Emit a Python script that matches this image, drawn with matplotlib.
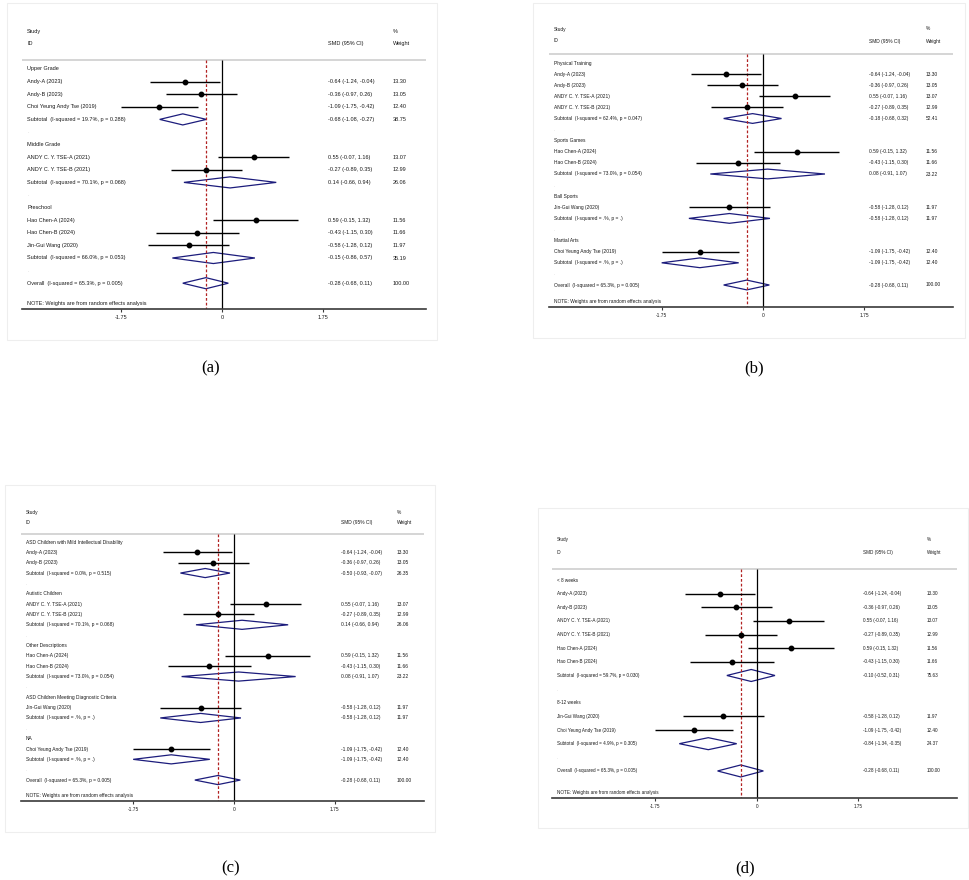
import numpy as np
import matplotlib.pyplot as plt
from matplotlib.patches import Polygon, Rectangle

plt.rcParams['font.family'] = ['Liberation Sans', 'DejaVu Sans']

# ---------- studies (shared by all four panels) ----------
study_names = ["Andy-A (2023)", "Andy-B (2023)", "ANDY C. Y. TSE-A (2021)",
               "ANDY C. Y. TSE-B (2021)", "Hao Chen-A (2024)", "Hao Chen-B (2024)",
               "Jin-Gui Wang (2020)", "Choi Yeung Andy Tse (2019)"]
study_smd = [-0.64, -0.36, 0.55, -0.27, 0.59, -0.43, -0.58, -1.09]
study_lo = [-1.24, -0.97, -0.07, -0.89, -0.15, -1.15, -1.28, -1.75]
study_hi = [-0.04, 0.26, 1.16, 0.35, 1.32, 0.30, 0.12, -0.42]
study_wt = [13.30, 13.05, 13.07, 12.99, 11.56, 11.66, 11.97, 12.40]

overall_smd, overall_lo, overall_hi, overall_wt = -0.28, -0.68, 0.11, 100.00
overall_i2, overall_p = "65.3%", "0.005"

# ---------- (a) grade ----------
a_groups = ["Upper Grade", "Middle Grade", "Preschool"]
a_members = [[0, 1, 7], [2, 3], [4, 5, 6]]
a_i2 = ["19.7%", "70.1%", "66.0%"]
a_p = ["0.288", "0.068", "0.053"]
a_smd = [-0.68, 0.14, -0.15]
a_lo = [-1.08, -0.66, -0.86]
a_hi = [-0.27, 0.94, 0.57]
a_wt = [38.75, 26.06, 35.19]

# ---------- (b) intervention type ----------
b_groups = ["Physical Training", "Sports Games", "Ball Sports", "Martial Arts"]
b_members = [[0, 1, 2, 3], [4, 5], [6], [7]]
b_i2 = ["62.4%", "73.0%", ".%", ".%"]
b_p = ["0.047", "0.054", ".", "."]
b_smd = [-0.18, 0.08, -0.58, -1.09]
b_lo = [-0.68, -0.91, -1.28, -1.75]
b_hi = [0.32, 1.07, 0.12, -0.42]
b_wt = [52.41, 23.22, 11.97, 12.40]

# ---------- (c) population ----------
c_groups = ["ASD Children with Mild Intellectual Disability", "Autistic Children",
            "Other Descriptions", "ASD Children Meeting Diagnostic Criteria", "NA"]
c_members = [[0, 1], [2, 3], [4, 5], [6], [7]]
c_i2 = ["0.0%", "70.1%", "73.0%", ".%", ".%"]
c_p = ["0.515", "0.068", "0.054", ".", "."]
c_smd = [-0.50, 0.14, 0.08, -0.58, -1.09]
c_lo = [-0.93, -0.66, -0.91, -1.28, -1.75]
c_hi = [-0.07, 0.94, 1.07, 0.12, -0.42]
c_wt = [26.35, 26.06, 23.22, 11.97, 12.40]

# ---------- (d) duration ----------
d_groups = ["< 8 weeks", "8-12 weeks"]
d_members = [[0, 1, 2, 3, 4, 5], [6, 7]]
d_i2 = ["59.7%", "4.9%"]
d_p = ["0.030", "0.305"]
d_smd = [-0.10, -0.84]
d_lo = [-0.52, -1.34]
d_hi = [0.31, -0.35]
d_wt = [75.63, 24.37]

tick_vals = [-1.75, 0, 1.75]
tick_text = ["-1.75", "0", "1.75"]

# ---------- layout, in pixels of the 970x880 image ----------
W, H = 970, 880
lay_a = dict(frame=(7, 3, 437, 340), L=22, R=426, zero=222, scale=57.7, row0=69, dy=12.6,
             sep=60, axis=309, study=32, id=44, note=303, label=27, smd=328, wt=393, fs=4.0)
lay_b = dict(frame=(533, 3, 965, 338), L=549, R=953, zero=763, scale=57.9, row0=63, dy=11.1,
             sep=54, axis=307, study=29, id=41, note=302, label=554, smd=869, wt=926, fs=3.5)
lay_c = dict(frame=(5, 485, 435, 832), L=21, R=424, zero=234, scale=57.6, row0=542, dy=10.35,
             sep=534, axis=801, study=512, id=522, note=795, label=26, smd=341, wt=397, fs=3.5)
lay_d = dict(frame=(538, 508, 968, 828), L=552, R=957, zero=757, scale=58.0, row0=580, dy=13.64,
             sep=569, axis=798, study=539, id=552, note=792, label=557, smd=863, wt=927, fs=3.3)

NAVY = '#1c1c7c'
RED = '#b22222'

fig = plt.figure(figsize=(9.7, 8.8), dpi=100)


def ci_text(m, lo, hi):
    return f"{m:.2f} ({lo:.2f}, {hi:.2f})"


def draw_panel(groups, members, i2, pv, smd, lo, hi, wt, lay, caption, cap_xy):
    x0, y0, x1, y1 = lay['frame']
    fig.add_artist(Rectangle((x0 / W, 1 - y1 / H), (x1 - x0) / W, (y1 - y0) / H,
                             transform=fig.transFigure, facecolor='white',
                             edgecolor='#eeeeee', lw=0.8, zorder=0))
    L, R, z, s = lay['L'], lay['R'], lay['zero'], lay['scale']
    top = lay['study'] - 10
    bot = lay['axis']
    ax = fig.add_axes([L / W, 1 - bot / H, (R - L) / W, (bot - top) / H])
    ax.patch.set_alpha(0)

    def row(py):
        return (py - lay['row0']) / lay['dy']

    ax.set_xlim((L - z) / s, (R - z) / s)
    ax.set_ylim(row(bot), row(top))

    xl = (lay['label'] - z) / s
    xs = (lay['smd'] - z) / s
    xw = (lay['wt'] - z) / s
    fs = lay['fs']
    kw = dict(fontsize=fs, va='center', ha='left', color='#1a1a1a')

    # header
    ax.text(xl, row(lay['study']), "Study", **kw)
    ax.text(xl, row(lay['id']), "ID", **kw)
    ax.text(xs, row(lay['id']), "SMD (95% CI)", **kw)
    ax.text(xw, row(lay['study']), "%", **kw)
    ax.text(xw, row(lay['id']), "Weight", **kw)
    ax.axhline(row(lay['sep']), color='#d2d2d2', lw=1.3)

    # reference lines
    ax.vlines(0, row(lay['sep']), row(bot), color='black', lw=0.9)
    ax.vlines(overall_smd, row(lay['sep']), row(bot), color=RED, lw=0.9,
              linestyles=(0, (2.2, 1.6)))

    def diamond(r, m, l, h):
        ax.add_patch(Polygon([[l, r], [m, r - 0.44], [h, r], [m, r + 0.44]], closed=True,
                             fill=False, edgecolor=NAVY, lw=0.9))

    r = 0
    for g in range(len(groups)):
        ax.text(xl, r, groups[g], **kw)
        r += 1
        for k in members[g]:
            ax.plot([study_lo[k], study_hi[k]], [r, r], color='black', lw=1.0,
                    solid_capstyle='butt')
            ax.plot(study_smd[k], r, 'o', color='black', ms=3.2)
            ax.text(xl, r, study_names[k], **kw)
            ax.text(xs, r, ci_text(study_smd[k], study_lo[k], study_hi[k]), **kw)
            ax.text(xw, r, f"{study_wt[k]:.2f}", **kw)
            r += 1
        diamond(r, smd[g], lo[g], hi[g])
        ax.text(xl, r, f"Subtotal  (I-squared = {i2[g]}, p = {pv[g]})", **kw)
        ax.text(xs, r, ci_text(smd[g], lo[g], hi[g]), **kw)
        ax.text(xw, r, f"{wt[g]:.2f}", **kw)
        r += 1
        ax.text(xl, r, ".", fontsize=fs, va='center', color='#c8c8c8')
        r += 1

    diamond(r, overall_smd, overall_lo, overall_hi)
    ax.text(xl, r, f"Overall  (I-squared = {overall_i2}, p = {overall_p})", **kw)
    ax.text(xs, r, ci_text(overall_smd, overall_lo, overall_hi), **kw)
    ax.text(xw, r, f"{overall_wt:.2f}", **kw)
    ax.text(xl, row(lay['note']), "NOTE: Weights are from random effects analysis", **kw)

    # axis
    for sp in ['top', 'left', 'right']:
        ax.spines[sp].set_visible(False)
    ax.spines['bottom'].set_color('#3a3a3a')
    ax.spines['bottom'].set_linewidth(1.2)
    ax.set_yticks([])
    ax.set_xticks(tick_vals)
    ax.set_xticklabels(tick_text)
    ax.tick_params(axis='x', length=2.5, width=0.8, pad=1.8, labelsize=fs,
                   colors='#3a3a3a', labelcolor='#1a1a1a')

    fig.text(cap_xy[0] / W, 1 - cap_xy[1] / H, caption, ha='center', va='center',
             fontsize=12, family=['Liberation Serif', 'DejaVu Serif'])


draw_panel(a_groups, a_members, a_i2, a_p, a_smd, a_lo, a_hi, a_wt, lay_a, "(a)", (211, 368))
draw_panel(b_groups, b_members, b_i2, b_p, b_smd, b_lo, b_hi, b_wt, lay_b, "(b)", (754, 368))
draw_panel(c_groups, c_members, c_i2, c_p, c_smd, c_lo, c_hi, c_wt, lay_c, "(c)", (231, 868))
draw_panel(d_groups, d_members, d_i2, d_p, d_smd, d_lo, d_hi, d_wt, lay_d, "(d)", (745, 868))

fig.savefig("out.png", dpi=100, facecolor='white')
